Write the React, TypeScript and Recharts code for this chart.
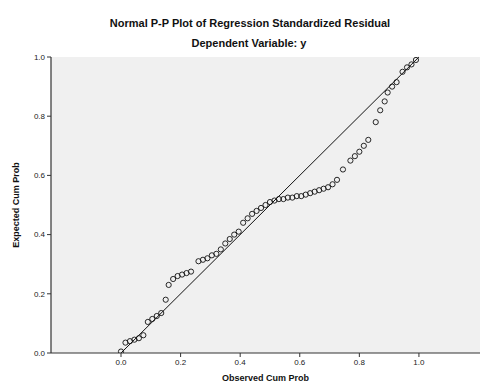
import React from 'react';
import { ScatterChart, Scatter, XAxis, YAxis, CartesianGrid, ReferenceLine, Label } from 'recharts';

const observedCumProb = [
  0.0, 0.015, 0.03, 0.045, 0.06, 0.075, 0.09, 0.105, 0.12, 0.135,
  0.15, 0.16, 0.175, 0.19, 0.205, 0.22, 0.235, 0.26, 0.275, 0.29,
  0.305, 0.32, 0.335, 0.35, 0.365, 0.38, 0.395, 0.41, 0.425, 0.44,
  0.455, 0.47, 0.485, 0.5, 0.515, 0.53, 0.545, 0.56, 0.575, 0.59,
  0.605, 0.62, 0.635, 0.65, 0.665, 0.68, 0.695, 0.71, 0.725, 0.745,
  0.77, 0.785, 0.8, 0.815, 0.83, 0.855, 0.87, 0.885, 0.895, 0.91,
  0.925, 0.945, 0.96, 0.975, 0.99,
];
const expectedCumProb = [
  0.005, 0.035, 0.04, 0.045, 0.05, 0.06, 0.105, 0.115, 0.125, 0.135,
  0.18, 0.23, 0.25, 0.26, 0.265, 0.27, 0.275, 0.31, 0.315, 0.32,
  0.33, 0.335, 0.35, 0.37, 0.385, 0.4, 0.41, 0.44, 0.455, 0.47,
  0.48, 0.49, 0.5, 0.51, 0.515, 0.52, 0.52, 0.525, 0.525, 0.53,
  0.53, 0.535, 0.54, 0.545, 0.55, 0.555, 0.56, 0.57, 0.585, 0.62,
  0.65, 0.665, 0.68, 0.7, 0.72, 0.78, 0.82, 0.85, 0.88, 0.9,
  0.915, 0.95, 0.965, 0.975, 0.99,
];
const axisTicks = [0, 0.2, 0.4, 0.6, 0.8, 1.0];
const chartTitle = 'Normal P-P Plot of Regression Standardized Residual';
const chartSubtitle = 'Dependent Variable: y';
const xLabel = 'Observed Cum Prob';
const yLabel = 'Expected Cum Prob';

const points = observedCumProb.map((x, i) => ({ x, y: expectedCumProb[i] }));

const FONT = '"Liberation Sans", Arial, sans-serif';

const Circle = (props: any) => (
  <circle cx={props.cx} cy={props.cy} r={2.6} fill="none" stroke="#111" strokeWidth={0.9} />
);

export default function App() {
  return (
    <div style={{ position: 'absolute', left: 0, top: 0, width: 481, height: 385, background: '#fff', fontFamily: FONT }}>
      <div style={{ position: 'absolute', left: 0, width: 500, top: 17, textAlign: 'center', fontSize: 11, fontWeight: 'bold', color: '#111' }}>
        {chartTitle}
      </div>
      <div style={{ position: 'absolute', left: 0, width: 498, top: 37, textAlign: 'center', fontSize: 11, fontWeight: 'bold', color: '#111' }}>
        {chartSubtitle}
      </div>
      <div style={{ position: 'absolute', left: 0, top: 0 }}>
        <ScatterChart width={481} height={385} margin={{ top: 57, right: 1, bottom: 0, left: 0 }}>
          <CartesianGrid horizontal={false} vertical={false} fill="#f0f0f0" stroke="none" />
          <XAxis
            type="number"
            dataKey="x"
            domain={[-0.235, 1.205]}
            ticks={axisTicks}
            allowDataOverflow
            height={32}
            tickFormatter={(v: number) => v.toFixed(1)}
            tick={{ fontSize: 8, fill: '#222', fontFamily: FONT }}
            tickSize={4}
            axisLine={{ stroke: '#333', strokeWidth: 1.2 }}
            tickLine={{ stroke: '#333' }}
          >
            <Label value={xLabel} position="insideBottom" offset={4} style={{ fontSize: 9, fontWeight: 'bold', fill: '#111', fontFamily: FONT }} />
          </XAxis>
          <YAxis
            type="number"
            dataKey="y"
            domain={[0, 1]}
            ticks={axisTicks}
            allowDataOverflow
            width={51}
            tickFormatter={(v: number) => v.toFixed(1)}
            tick={{ fontSize: 8, fill: '#222', fontFamily: FONT }}
            tickSize={4}
            axisLine={{ stroke: '#333', strokeWidth: 1.2 }}
            tickLine={{ stroke: '#333' }}
          >
            <Label value={yLabel} angle={-90} position="insideLeft" offset={16} style={{ fontSize: 9, fontWeight: 'bold', fill: '#111', fontFamily: FONT, textAnchor: 'middle' }} />
          </YAxis>
          <ReferenceLine segment={[{ x: 0, y: 0 }, { x: 1, y: 1 }]} stroke="#111" strokeWidth={1} ifOverflow="visible" />
          <Scatter data={points} shape={Circle} isAnimationActive={false} />
        </ScatterChart>
      </div>
    </div>
  );
}
